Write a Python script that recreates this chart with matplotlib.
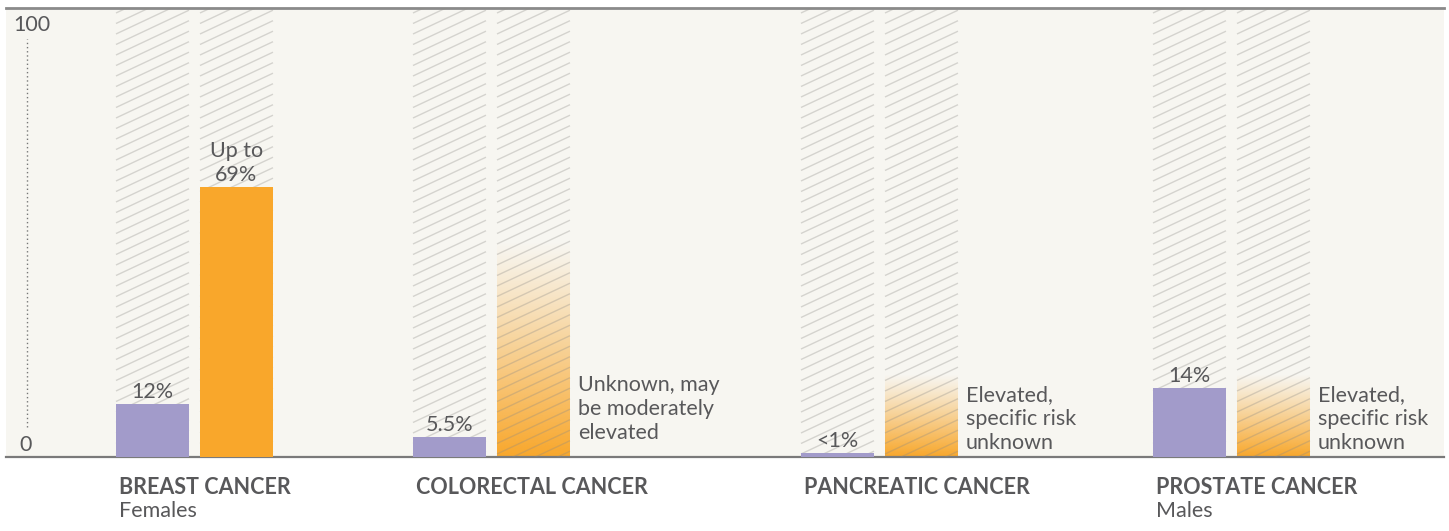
import numpy as np
import matplotlib.pyplot as plt
from matplotlib.patches import Rectangle
from matplotlib.collections import LineCollection

# data (bar heights as drawn, 0-100 scale)
categories = ['BREAST CANCER', 'COLORECTAL CANCER', 'PANCREATIC CANCER', 'PROSTATE CANCER']
subtitles = ['Females', '', '', 'Males']
general_pop = [11.8, 4.5, 0.9, 15.4]
general_labels = ['12%', '5.5%', '<1%', '14%']
carrier_risk = [60.1, 48.0, 18.3, 18.3]
carrier_known = [True, False, False, False]
carrier_labels = ['Up to\n69%', 'Unknown, may\nbe moderately\nelevated',
                  'Elevated,\nspecific risk\nunknown', 'Elevated,\nspecific risk\nunknown']

# layout in pixel units of the 1449x531 image
W, H = 1449, 531
group_left = [116, 413, 801, 1153]
bar_w = 73
offset = 84
base_y, top_y = 457, 8
x0, x1 = 6, 1443.7
side_text_y = [0, 14, 4, 4]  # px above baseline for side notes

bg = '#f7f6f1'
purple = '#a29bca'
orange = '#f9a72b'
txt = '#58585a'
fs = 15.5

plt.rcParams['font.family'] = ['Lato', 'DejaVu Sans']

fig = plt.figure(figsize=(W / 100, H / 100), dpi=100)
fig.patch.set_facecolor('white')
ax = fig.add_axes([x0 / W, (H - base_y) / H, (x1 - x0) / W, (base_y - top_y) / H])
ax.set_xlim(x0, x1)
ax.set_ylim(0, 100)
ax.set_facecolor(bg)
for s in ['left', 'right']:
    ax.spines[s].set_visible(False)
ax.spines['top'].set_color('#8a8a8a')
ax.spines['top'].set_linewidth(2)
ax.spines['bottom'].set_color('#7a7a7a')
ax.spines['bottom'].set_linewidth(1.6)
ax.set_xticks([])
ax.set_yticks([])

ypp = 100 / (base_y - top_y)  # data units per pixel


def hatch_column(xl):
    rect = Rectangle((xl, 0), bar_w, 100, transform=ax.transData)
    segs = []
    slope = 0.47
    for y0 in np.arange(-60, 460, 10.5):
        segs.append([(xl, y0 * ypp), (xl + bar_w, (y0 + slope * bar_w) * ypp)])
    lc = LineCollection(segs, colors='#8c8a86', linewidths=1.0, alpha=0.32, zorder=3)
    lc.set_clip_path(rect)
    ax.add_collection(lc)


def fade_bar(xl, h):
    n = 200
    grad = np.zeros((n, 1, 4))
    rgb = plt.matplotlib.colors.to_rgb(orange)
    grad[:, 0, :3] = rgb
    a = np.linspace(1, 0, n)
    grad[:, 0, 3] = a ** 1.1
    ax.imshow(grad, extent=(xl, xl + bar_w, 0, h), origin='lower', aspect='auto',
              interpolation='bicubic', zorder=2)


for i in range(len(categories)):
    gl = group_left[i]
    ol = gl + offset
    hatch_column(gl)
    hatch_column(ol)
    ax.bar(gl, general_pop[i], width=bar_w, align='edge', color=purple, zorder=4)
    ax.text(gl + bar_w / 2, general_pop[i] + 0.5, general_labels[i], ha='center', va='bottom',
            fontsize=fs, color=txt, zorder=5)
    if carrier_known[i]:
        ax.bar(ol, carrier_risk[i], width=bar_w, align='edge', color=orange, zorder=4)
        ax.text(ol + bar_w / 2, carrier_risk[i] + 0.5, carrier_labels[i], ha='center', va='bottom',
                fontsize=fs, color=txt, linespacing=1.25, zorder=5)
    else:
        fade_bar(ol, carrier_risk[i])
        ax.text(ol + bar_w + 8, side_text_y[i] * ypp, carrier_labels[i], ha='left', va='bottom',
                fontsize=fs, color=txt, linespacing=1.25, zorder=5)
    fig.text((gl + 3) / W, 1 - 487 / H, categories[i], ha='left', va='center',
             fontsize=fs, fontweight='bold', color=txt)
    if subtitles[i]:
        fig.text((gl + 3) / W, 1 - 511 / H, subtitles[i], ha='left', va='center',
                 fontsize=fs, color=txt)

# y axis marks
ax.set_xlim(x0, x1)
ax.plot([27, 27], [(base_y - 427) * ypp, (base_y - 39) * ypp], ls=(0, (1, 2)),
        color='#777777', lw=1, zorder=3)
ax.text(32, 100 - 17 * ypp, '100', ha='center', va='center', fontsize=fs, color=txt)
ax.text(26, 12 * ypp, '0', ha='center', va='center', fontsize=fs, color=txt)

fig.savefig('out.png', dpi=100, facecolor='white')
